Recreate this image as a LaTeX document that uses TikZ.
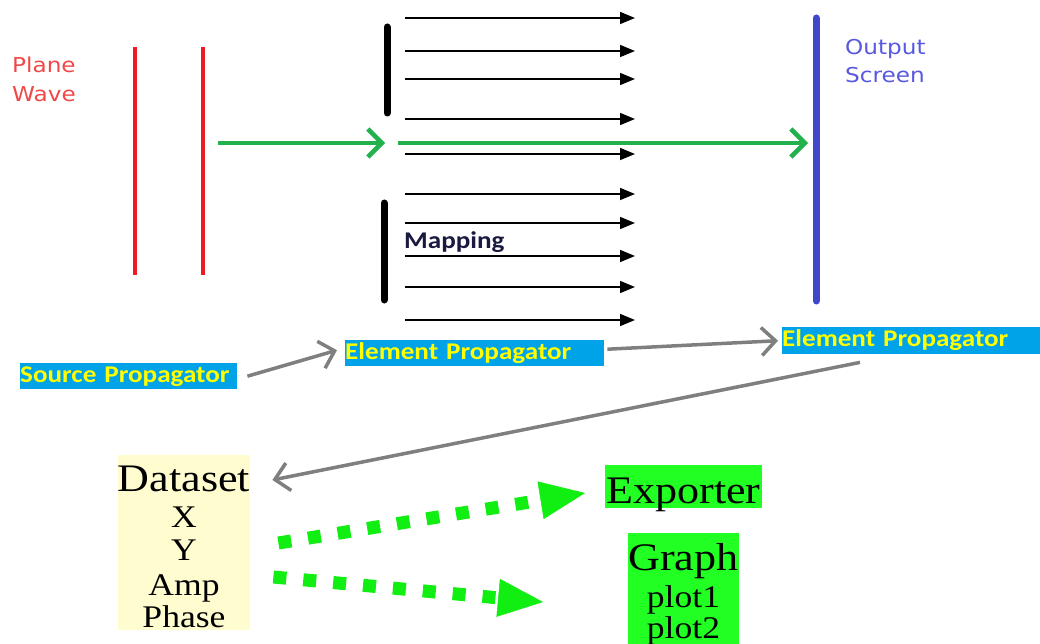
\documentclass[tikz,border=0pt]{standalone}
\usepackage{fontspec}
\usetikzlibrary{arrows.meta,calc}
\newfontfamily\planefont[FakeStretch=1.13]{DejaVu Sans}
\newfontfamily\calfont[FakeStretch=1.13]{Carlito}
\newfontfamily\serfont[FakeStretch=1.13]{Liberation Serif}
\definecolor{wavered}{HTML}{ED1C24}
\definecolor{labelred}{HTML}{F04848}
\definecolor{beamgreen}{HTML}{22B14C}
\definecolor{screenblue}{HTML}{3F48CC}
\definecolor{labelblue}{HTML}{5858E0}
\definecolor{propblue}{HTML}{00A2E8}
\definecolor{propyellow}{HTML}{FFFF00}
\definecolor{arrowgray}{HTML}{7F7F7F}
\definecolor{datafill}{HTML}{FFFDD0}
\definecolor{boxgreen}{HTML}{22FF22}
\definecolor{dotgreen}{HTML}{11EE11}
\definecolor{mapnavy}{HTML}{1A1A40}
\begin{document}
\begin{tikzpicture}[x=1pt,y=-1pt,
  wavestyle/.style={wavered,line width=4.5pt},
  barstyle/.style={black,line width=7pt,line cap=round},
  screenstyle/.style={screenblue,line width=7pt,line cap=round},
  beam/.style={beamgreen,line width=4.5pt,-{Straight Barb[length=14pt,width=28pt]}},
  ray/.style={black,line width=1.6pt,-{Triangle[length=15pt,width=12pt]}},
  flow/.style={arrowgray,line width=3.5pt,-{Straight Barb[length=14pt,width=28pt]}},
  dots/.style={dotgreen,line width=13pt,dash pattern=on 13pt off 17pt,-{Triangle[length=45pt,width=38pt,line width=0.5pt]}},
  planelabel/.style={anchor=base west,inner sep=0pt,font=\planefont\fontsize{20.5}{24}\selectfont},
  propbox/.style={fill=propblue,text=propyellow,font=\calfont\bfseries\fontsize{24}{28}\selectfont,
    inner xsep=0pt,inner ysep=1pt,text height=18pt,text depth=6pt,anchor=north west,align=left},
  serbig/.style={anchor=base,inner sep=0pt,font=\serfont\fontsize{39}{44}\selectfont},
  sersmall/.style={anchor=base,inner sep=0pt,font=\serfont\fontsize{31.5}{36}\selectfont},
  fillbox/.style={anchor=north west,inner sep=0pt}]
\useasboundingbox (0,0) rectangle (1040,644);

% plane wave
\node[planelabel,labelred] (pw1) at (12,73) {Plane};
\node[planelabel,labelred] (pw2) at (12,102) {Wave};
\draw[wavestyle] (135,47) -- (135,275);
\draw[wavestyle] (203,47) -- (203,275);

% aperture
\draw[barstyle] (387,27) -- (387,113);
\draw[barstyle] (384,203) -- (384,300);

% output screen
\draw[screenstyle] (816,18) -- (816,301);
\node[planelabel,labelblue] (os1) at (845,55) {Output};
\node[planelabel,labelblue] (os2) at (845,83) {Screen};

% beam
\coordinate (b1a) at (218,143);
\coordinate (b1b) at (385,143);
\coordinate (b2a) at (398,143);
\coordinate (b2b) at (808,143);
\draw[beam] (b1a) -- (b1b);
\draw[beam] (b2a) -- (b2b);

% mapping rays
\foreach \i/\y in {1/18,2/51,3/79,4/119,5/154,6/194,7/223,8/256,9/287,10/320}{
  \coordinate (r\i a) at (405,\y);
  \coordinate (r\i b) at (635,\y);
  \draw[ray] (r\i a) -- (r\i b);
}
\node[anchor=base west,inner sep=0pt,text=mapnavy,font=\calfont\bfseries\fontsize{24}{28}\selectfont] (map) at (404,248) {Mapping};

% propagators
\node[propbox,text width=217pt] (src) at (20,363) {Source Propagator};
\node[propbox,text width=259pt] (ep1) at (345,340) {Element Propagator};
\node[propbox,text width=258pt,inner ysep=1.5pt] (ep2) at (782,327) {Element Propagator};

% dataset / exporter / graph boxes
\node[fillbox,fill=datafill,minimum width=132pt,minimum height=175pt] (ds) at (118,455) {};
\node[serbig] (dst) at (184,491) {Dataset};
\node[sersmall] (dsx) at (184,527) {X};
\node[sersmall] (dsy) at (184,560) {Y};
\node[sersmall] (dsa) at (184,595) {Amp};
\node[sersmall] (dsp) at (184,627) {Phase};

\node[fillbox,fill=boxgreen,minimum width=157pt,minimum height=43pt] (ex) at (605,465) {};
\node[serbig] (ext) at (683.5,503) {Exporter};

\node[fillbox,fill=boxgreen,minimum width=111pt,minimum height=112pt] (gr) at (628,533) {};
\node[serbig] (grt) at (683.5,570) {Graph};
\node[sersmall] (gr1) at (683.5,607) {plot1};
\node[sersmall] (gr2) at (683.5,638) {plot2};

% gray flow arrows
\draw[flow] ($(src.east)+(10,0)$) -- ($(ep1.west)+(-8,-3)$);
\draw[flow] ($(ep1.east)+(3,-4)$) -- ($(ep2.west)+(-4,0)$);
\draw[flow] ($(ep2.south west)+(78,8)$) -- ($(ds.north east)+(22,25)$);

% green dotted arrows
\draw[dots] ($(ds.north east)+(28,88)$) -- ($(ex.north west)+(-20,28)$);
\draw[dots] ($(ds.north east)+(23,122)$) -- ($(gr.north west)+(-85,69)$);
\end{tikzpicture}
\end{document}
